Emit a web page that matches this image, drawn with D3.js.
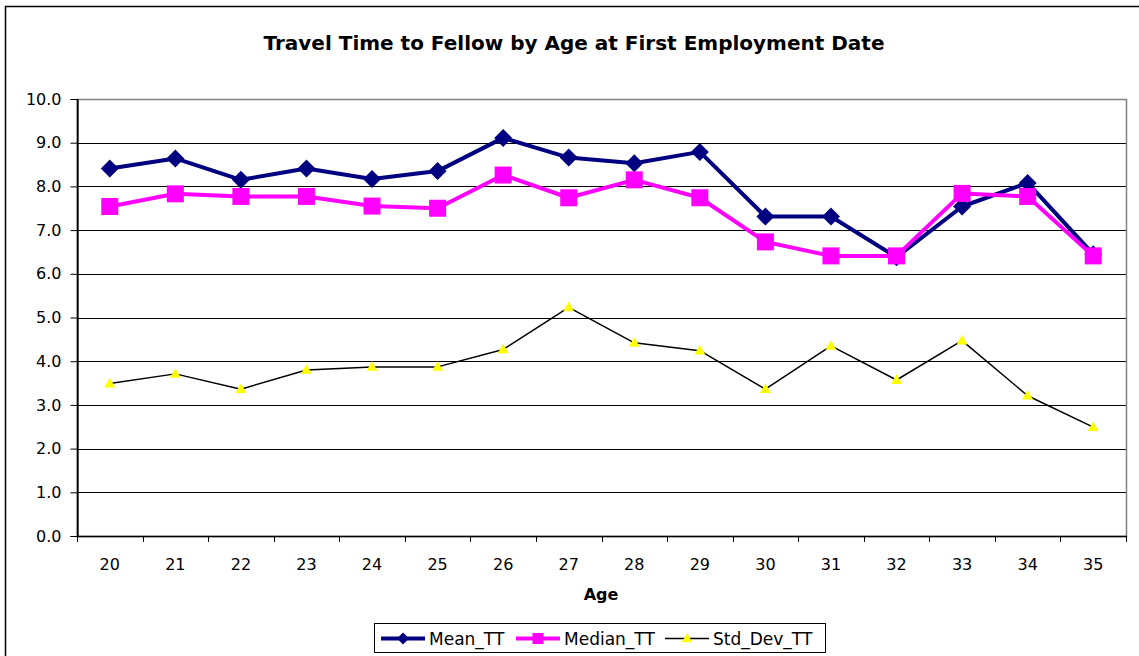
<!DOCTYPE html>
<html>
<head>
<meta charset="utf-8">
<script src="https://cdn.jsdelivr.net/npm/d3@7"></script>
<style>
  body { margin: 0; background: #fff; }
  svg { display: block; }
  text { font-family: "DejaVu Sans", Verdana, sans-serif; fill: #000; }
</style>
</head>
<body>
<svg id="chart" width="1139" height="656"></svg>
<script>
var ages = [20, 21, 22, 23, 24, 25, 26, 27, 28, 29, 30, 31, 32, 33, 34, 35];
var meanTT = [8.41, 8.64, 8.15, 8.41, 8.17, 8.35, 9.11, 8.66, 8.53, 8.79, 7.31, 7.31, 6.38, 7.54, 8.08, 6.45];
var medianTT = [7.54, 7.83, 7.77, 7.77, 7.55, 7.50, 8.26, 7.74, 8.15, 7.74, 6.73, 6.41, 6.41, 7.84, 7.77, 6.41];
var stdDevTT = [3.49, 3.71, 3.36, 3.80, 3.87, 3.87, 4.27, 5.23, 4.42, 4.24, 3.36, 4.35, 3.57, 4.47, 3.21, 2.49];
var yTicks = [0, 1, 2, 3, 4, 5, 6, 7, 8, 9, 10];

var seriesList = [
  {name: "Mean_TT", values: meanTT, color: "#000080", width: 4, marker: "diamond"},
  {name: "Median_TT", values: medianTT, color: "#ff00ff", width: 4, marker: "square"},
  {name: "Std_Dev_TT", values: stdDevTT, color: "#000", width: 1.5, marker: "triangle"}
];

var drawChart = function () {
  var svg = d3.select("#chart");
  var plotLeft = 77, plotRight = 1126, plotTop = 99, plotBottom = 536;

  var x = d3.scaleBand().domain(ages).range([plotLeft, plotRight]).padding(0);
  var y = d3.scaleLinear().domain([0, 10]).range([plotBottom, plotTop]);

  // outer chart border (runs off the picture on right and bottom)
  svg.append("rect")
    .attr("x", 5.5).attr("y", 6.5)
    .attr("width", 1200).attr("height", 700)
    .attr("fill", "#fff").attr("stroke", "#000").attr("stroke-width", 1.5);

  svg.append("text")
    .attr("x", 574).attr("y", 50)
    .attr("text-anchor", "middle")
    .style("font-size", "20px").style("font-weight", "bold")
    .text("Travel Time to Fellow by Age at First Employment Date");

  // gridlines
  svg.append("g")
    .selectAll("line")
    .data(yTicks.slice(1, -1))
    .enter()
    .append("line")
    .attr("x1", plotLeft).attr("x2", plotRight)
    .attr("y1", function (d) { return Math.round(y(d)) + 0.5; })
    .attr("y2", function (d) { return Math.round(y(d)) + 0.5; })
    .attr("stroke", "#000").attr("stroke-width", 1);

  // plot area border
  svg.append("rect")
    .attr("x", plotLeft + 0.5).attr("y", plotTop + 0.5)
    .attr("width", plotRight - plotLeft).attr("height", plotBottom - plotTop)
    .attr("fill", "none").attr("stroke", "#808080").attr("stroke-width", 1.5);

  var yAxis = svg.append("g")
    .attr("transform", "translate(" + (plotLeft + 0.5) + ",0)")
    .call(d3.axisLeft(y).tickValues(yTicks).tickSize(7).tickPadding(9)
      .tickFormat(d3.format(".1f")));
  yAxis.selectAll("text").style("font-size", "16px");

  var xAxis = svg.append("g")
    .attr("transform", "translate(0," + (plotBottom + 0.5) + ")")
    .call(d3.axisBottom(x).tickSize(0).tickPadding(22));
  xAxis.select(".domain").remove();
  xAxis.selectAll("text").style("font-size", "16px");

  // x tick marks sit between categories
  var edges = ages.map(function (a) { return x(a); }).concat([plotRight]);
  svg.append("g")
    .selectAll("line")
    .data(edges)
    .enter()
    .append("line")
    .attr("x1", function (d) { return Math.round(d) + 0.5; })
    .attr("x2", function (d) { return Math.round(d) + 0.5; })
    .attr("y1", plotBottom).attr("y2", plotBottom + 6)
    .attr("stroke", "#000");
  svg.append("line")
    .attr("x1", plotLeft).attr("x2", plotRight + 1)
    .attr("y1", plotBottom + 0.5).attr("y2", plotBottom + 0.5)
    .attr("stroke", "#000").attr("stroke-width", 1.5);
  svg.append("line")
    .attr("x1", plotLeft + 0.5).attr("x2", plotLeft + 0.5)
    .attr("y1", plotTop).attr("y2", plotBottom + 1)
    .attr("stroke", "#000").attr("stroke-width", 1.5);

  svg.append("text")
    .attr("x", 601).attr("y", 600)
    .attr("text-anchor", "middle")
    .style("font-size", "16px").style("font-weight", "bold")
    .text("Age");

  function markerPath(type, s) {
    if (type === "diamond") return "M0," + (-s) + "L" + s + ",0L0," + s + "L" + (-s) + ",0Z";
    if (type === "square") return "M" + (-s) + "," + (-s) + "H" + s + "V" + s + "H" + (-s) + "Z";
    return "M0," + (-s * 1.1) + "L" + (s * 1.05) + "," + (s * 0.75) + "H" + (-s * 1.05) + "Z";
  }
  var markerSize = {diamond: 9, square: 8.5, triangle: 5.2};
  var markerFill = {diamond: "#000080", square: "#ff00ff", triangle: "#ffff00"};

  var line = d3.line()
    .x(function (d, i) { return x(ages[i]) + x.bandwidth() / 2; })
    .y(function (d) { return y(d); });

  seriesList.forEach(function (s) {
    svg.append("path")
      .attr("d", line(s.values))
      .attr("fill", "none")
      .attr("stroke", s.color)
      .attr("stroke-width", s.width)
      .attr("stroke-linejoin", "round");
    svg.append("g")
      .selectAll("path")
      .data(s.values)
      .enter()
      .append("path")
      .attr("transform", function (d, i) {
        return "translate(" + (x(ages[i]) + x.bandwidth() / 2) + "," + y(d) + ")";
      })
      .attr("d", markerPath(s.marker, markerSize[s.marker]))
      .attr("fill", markerFill[s.marker]);
  });

  // legend
  var legend = svg.append("g");
  legend.append("rect")
    .attr("x", 374.5).attr("y", 623.5)
    .attr("width", 451).attr("height", 29)
    .attr("fill", "#fff").attr("stroke", "#000");
  var legendX = [381, 516, 665];
  var legendMarker = {diamond: 6, square: 5.5, triangle: 5};
  seriesList.forEach(function (s, i) {
    var lx = legendX[i], ly = 638.5;
    legend.append("line")
      .attr("x1", lx).attr("x2", lx + 44)
      .attr("y1", ly).attr("y2", ly)
      .attr("stroke", s.color).attr("stroke-width", s.width);
    legend.append("path")
      .attr("transform", "translate(" + (lx + 22) + "," + ly + ")")
      .attr("d", markerPath(s.marker, legendMarker[s.marker]))
      .attr("fill", markerFill[s.marker]);
    legend.append("text")
      .attr("x", lx + 48).attr("y", ly + 6)
      .style("font-size", "17px")
      .text(s.name);
  });
};

drawChart();
</script>
</body>
</html>
